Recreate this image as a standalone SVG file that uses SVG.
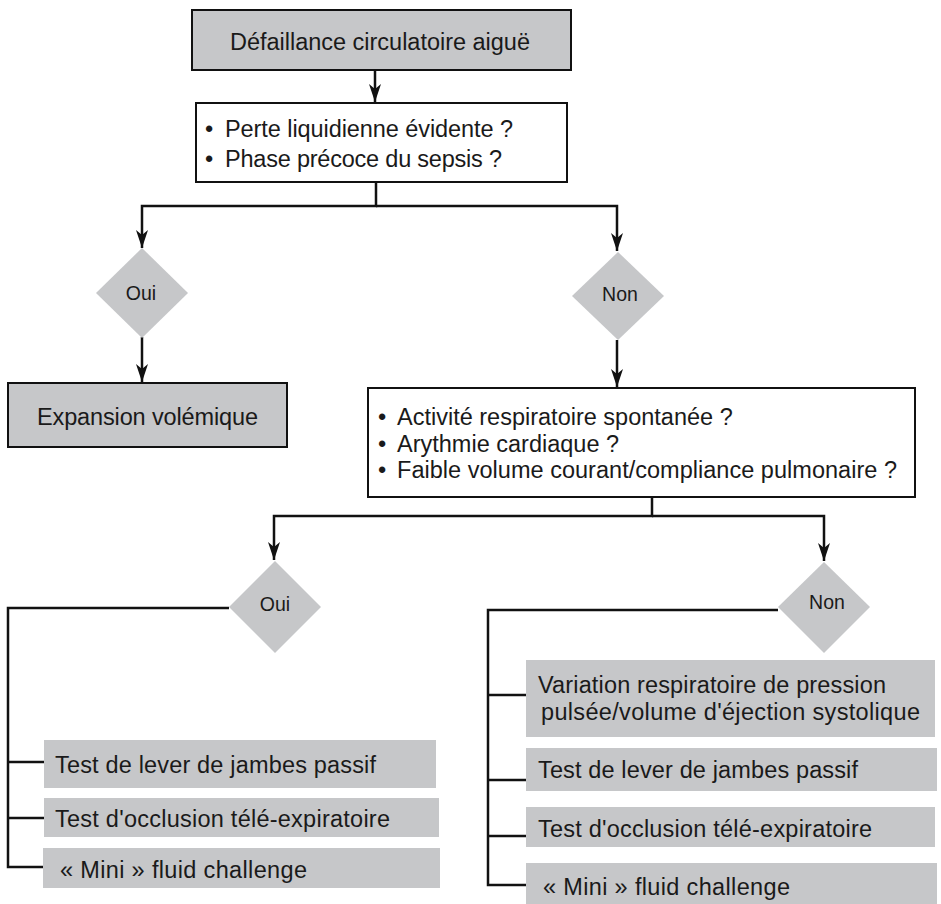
<svg xmlns="http://www.w3.org/2000/svg" width="941" height="904" viewBox="0 0 941 904">
<defs>
<style>
.box{fill:#ffffff;stroke:#111;stroke-width:2}
.gbox{fill:#c6c7c9;stroke:#111;stroke-width:2}
.tbox{fill:#c6c7c9;stroke:none}
.dia{fill:#c6c7c9;stroke:none}
.t{font-family:"Liberation Sans",Arial,sans-serif;font-size:23.5px;fill:#1a1a1a}
.d{font-family:"Liberation Sans",Arial,sans-serif;font-size:19.5px;fill:#1a1a1a;text-anchor:middle}
.c{fill:none;stroke:#111;stroke-width:2.5}
</style>
<marker id="ah" viewBox="0 0 18 12" refX="18" refY="6" markerWidth="18" markerHeight="12" markerUnits="userSpaceOnUse" orient="auto">
<path d="M0,0 L18,6 L0,12 L5,6 z" fill="#111"/>
</marker>
</defs>

<g id="connectors">
<path class="c" d="M375,70 V102" marker-end="url(#ah)"/>
<path class="c" d="M376,182 V206 H142 V248" marker-end="url(#ah)"/>
<path class="c" d="M376,206 H617 V251" marker-end="url(#ah)"/>
<path class="c" d="M142,337 V382" marker-end="url(#ah)"/>
<path class="c" d="M617,340 V387" marker-end="url(#ah)"/>
<path class="c" d="M652,497 V516 H274 V560" marker-end="url(#ah)"/>
<path class="c" d="M652,516 H824 V561" marker-end="url(#ah)"/>
<path class="c" d="M229,608 H8 V867 H44 M8,762 H44 M8,818 H44"/>
<path class="c" d="M778,610 H488 V885 H526 M488,695 H527 M488,780 H527 M488,836 H527"/>
</g>

<g id="n-start">
<rect class="gbox" x="192" y="10" width="379" height="60"/>
<text class="t" x="230" y="50" textLength="300" lengthAdjust="spacing">Défaillance circulatoire aiguë</text>
</g>

<g id="n-q1">
<rect class="box" x="196" y="103" width="371" height="79"/>
<text class="t" x="205" y="137">•</text>
<text class="t" x="225" y="137" textLength="288" lengthAdjust="spacing">Perte liquidienne évidente ?</text>
<text class="t" x="205" y="167">•</text>
<text class="t" x="225" y="167" textLength="277" lengthAdjust="spacing">Phase précoce du sepsis ?</text>
</g>

<g id="n-oui1">
<polygon class="dia" points="142,248 188,293 142,338 96,293"/>
<text class="d" x="141" y="300">Oui</text>
</g>

<g id="n-non1">
<polygon class="dia" points="618,252 664,296 618,340 572,296"/>
<text class="d" x="620" y="301">Non</text>
</g>

<g id="n-expansion">
<rect class="gbox" x="8" y="383" width="279" height="64"/>
<text class="t" x="37" y="425" textLength="221" lengthAdjust="spacing">Expansion volémique</text>
</g>

<g id="n-q2">
<rect class="box" x="368" y="388" width="547" height="109"/>
<text class="t" x="378" y="425">•</text>
<text class="t" x="397" y="425">Activité respiratoire spontanée ?</text>
<text class="t" x="378" y="452">•</text>
<text class="t" x="397" y="452">Arythmie cardiaque ?</text>
<text class="t" x="378" y="478">•</text>
<text class="t" x="397" y="478" textLength="500" lengthAdjust="spacing">Faible volume courant/compliance pulmonaire ?</text>
</g>

<g id="n-oui2">
<polygon class="dia" points="275,561 321,607 275,653 229,607"/>
<text class="d" x="275" y="611">Oui</text>
</g>

<g id="n-non2">
<polygon class="dia" points="824,562 870,607 824,653 778,607"/>
<text class="d" x="827" y="609">Non</text>
</g>

<g id="n-l1">
<rect class="tbox" x="44" y="740" width="392" height="48"/>
<text class="t" x="55" y="773" textLength="321" lengthAdjust="spacing">Test de lever de jambes passif</text>
</g>
<g id="n-l2">
<rect class="tbox" x="44" y="798" width="395" height="39"/>
<text class="t" x="55" y="827" textLength="335" lengthAdjust="spacing">Test d'occlusion télé-expiratoire</text>
</g>
<g id="n-l3">
<rect class="tbox" x="43" y="848" width="397" height="40"/>
<text class="t" x="60" y="878" textLength="247" lengthAdjust="spacing">« Mini » fluid challenge</text>
</g>

<g id="n-r1">
<rect class="tbox" x="526" y="660" width="409" height="77"/>
<text class="t" x="538" y="693" textLength="348" lengthAdjust="spacing">Variation respiratoire de pression</text>
<text class="t" x="541" y="720" textLength="379" lengthAdjust="spacing">pulsée/volume d'éjection systolique</text>
</g>
<g id="n-r2">
<rect class="tbox" x="526" y="748" width="411" height="43"/>
<text class="t" x="538" y="778" textLength="320" lengthAdjust="spacing">Test de lever de jambes passif</text>
</g>
<g id="n-r3">
<rect class="tbox" x="526" y="807" width="409" height="40"/>
<text class="t" x="538" y="837" textLength="334" lengthAdjust="spacing">Test d'occlusion télé-expiratoire</text>
</g>
<g id="n-r4">
<rect class="tbox" x="526" y="863" width="411" height="41"/>
<text class="t" x="543" y="895" textLength="247" lengthAdjust="spacing">« Mini » fluid challenge</text>
</g>
</svg>
